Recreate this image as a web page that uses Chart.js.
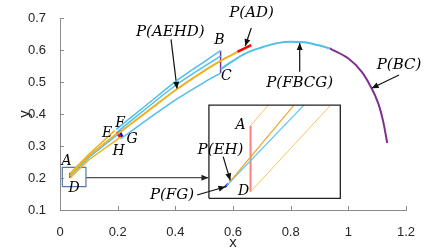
<!DOCTYPE html>
<html>
<head>
<meta charset="utf-8">
<script src="https://cdn.jsdelivr.net/npm/chart.js@4.4.0/dist/chart.umd.min.js"></script>
<style>
    html, body { margin: 0; padding: 0; background: #ffffff; }
</style>
</head>
<body>
<canvas id="grafico" width="448" height="252"></canvas>
<script>

// marcas dos eixos
const xTicks = [0, 0.2, 0.4, 0.6, 0.8, 1, 1.2];
const xTickLabels = ["0", "0.2", "0.4", "0.6", "0.8", "1", "1.2"];
const yTicks = [0.1, 0.2, 0.3, 0.4, 0.5, 0.6, 0.7];
const yTickLabels = ["0.1", "0.2", "0.3", "0.4", "0.5", "0.6", "0.7"];

// trecho A-D ate E-H
const linhaAE = [[0.035, 0.215], [0.1, 0.274], [0.19, 0.348]];
const linhaDH = [[0.035, 0.200], [0.1, 0.257], [0.21, 0.328]];
const linhaMeioLaranja = [[0.034, 0.209], [0.1, 0.269], [0.2, 0.342]];
const linhaMeioAzul = [[0.033, 0.205], [0.1, 0.264], [0.2, 0.336]];

// faixa E-H ate B-C
const azulSuperior = [[0.195, 0.352], [0.3, 0.428], [0.406, 0.505], [0.5, 0.563], [0.557, 0.598]];
const azulSegundo = [[0.2, 0.345], [0.3, 0.418], [0.406, 0.493], [0.5, 0.549], [0.557, 0.581]];
const laranjaCentro = [[0.2, 0.338], [0.3, 0.406], [0.406, 0.478], [0.5, 0.535], [0.557, 0.566], [0.59, 0.582], [0.615, 0.594]];
const azulInferior = [[0.21, 0.322], [0.3, 0.381], [0.406, 0.447], [0.5, 0.499], [0.557, 0.528]];

// segmentos
const segAD = [[0.615, 0.594], [0.663, 0.615]];
const segBC = [[0.557, 0.598], [0.557, 0.528]];
const segEH = [[0.197, 0.344], [0.209, 0.326]];
const segFG = [[0.205, 0.348], [0.216, 0.329]];
const segADpequeno = [[0.035, 0.216], [0.035, 0.200]];

// curva depois de BC e trecho final
const curvaFBCG = [[0.557, 0.540], [0.6, 0.566], [0.64, 0.588], [0.6957, 0.607], [0.7537, 0.6215], [0.80, 0.6259], [0.8463, 0.6241], [0.8929, 0.6156], [0.9357, 0.6053]];
const curvaBC = [[0.9357, 0.6053], [0.9993, 0.5741], [1.0459, 0.5322], [1.0807, 0.4803], [1.1037, 0.4334], [1.12, 0.38], [1.135, 0.3094]];

// detalhe ampliado
const caixaPequena = [[0.008, 0.173], [0.09, 0.173], [0.09, 0.233], [0.008, 0.233], [0.008, 0.173]];
const caixaDetalhe = [[0.5165, 0.1366], [0.9722, 0.1366], [0.9722, 0.428], [0.5165, 0.428], [0.5165, 0.1366]];
const detalheAD = [[0.6609, 0.3634], [0.6609, 0.1572]];
const detalheLaranjaA = [[0.6609, 0.3634], [0.7224, 0.428]];
const detalheLaranjaEH = [[0.5913, 0.1906], [0.8115, 0.428]];
const detalheAzulFG = [[0.5774, 0.1759], [0.8463, 0.428]];
const detalheLaranjaD = [[0.6609, 0.1572], [0.9391, 0.428]];
const detalheEH = [[0.5895, 0.1885], [0.5925, 0.1925]];
const detalheFG = [[0.572, 0.172], [0.583, 0.182]];

// setas
const setaCaixa = [[0.0904, 0.2009], [0.5148, 0.2009]];
const setaAEHD = [[0.3851, 0.6334], [0.4059, 0.4785]];
const setaAD = [[0.6633, 0.6688], [0.6424, 0.6125]];
const setaFBCG = [[0.8313, 0.5322], [0.8313, 0.6215]];
const setaBC = [[1.1757, 0.5219], [1.0807, 0.4803]];
const setaEH = [[0.5659, 0.2666], [0.5905, 0.1925]];
const setaFG = [[0.4755, 0.1469], [0.5739, 0.1728]];

// rotulos
const rotulos = [
    { texto: "P(AEHD)", x: 0.3826, y: 0.656, tam: 15 },
    { texto: "P(AD)", x: 0.6643, y: 0.716, tam: 15 },
    { texto: "P(FBCG)", x: 0.8313, y: 0.496, tam: 15 },
    { texto: "P(BC)", x: 1.1757, y: 0.553, tam: 15 },
    { texto: "P(EH)", x: 0.5565, y: 0.2875, tam: 15 },
    { texto: "P(FG)", x: 0.3885, y: 0.1469, tam: 15 },
    { texto: "B", x: 0.553, y: 0.631, tam: 14 },
    { texto: "C", x: 0.577, y: 0.519, tam: 14 },
    { texto: "E", x: 0.1635, y: 0.3406, tam: 14 },
    { texto: "F", x: 0.2087, y: 0.3719, tam: 14 },
    { texto: "G", x: 0.2504, y: 0.322, tam: 14 },
    { texto: "H", x: 0.2035, y: 0.284, tam: 14 },
    { texto: "A", x: 0.0226, y: 0.2516, tam: 14 },
    { texto: "D", x: 0.0487, y: 0.1688, tam: 14 },
    { texto: "A", x: 0.626, y: 0.3634, tam: 14 },
    { texto: "D", x: 0.6365, y: 0.157, tam: 14 }
];

const AZUL = "#4DBEEE";
const LARANJA = "#EDB120";
const ROXO = "#7E2F8E";

function pts(arr) {
    return arr.map(p => ({ x: p[0], y: p[1] }));
}

function linha(arr, cor, largura, extra) {
    return Object.assign({
        data: pts(arr),
        showLine: true,
        borderColor: cor,
        borderWidth: largura,
        pointRadius: 0,
        tension: 0,
        fill: false,
        clip: false
    }, extra || {});
}

const datasets = [
    linha(linhaAE, LARANJA, 1.5),
    linha(linhaDH, LARANJA, 1.5),
    linha(linhaMeioLaranja, LARANJA, 1.5),
    linha(linhaMeioAzul, AZUL, 1.5),
    linha(azulSuperior, AZUL, 1.5, { tension: 0.3 }),
    linha(azulSegundo, AZUL, 1.5, { tension: 0.3 }),
    linha(laranjaCentro, LARANJA, 2, { tension: 0.3 }),
    linha(azulInferior, AZUL, 1.5, { tension: 0.3 }),
    linha(curvaFBCG, AZUL, 2, { cubicInterpolationMode: "monotone" }),
    linha(curvaBC, ROXO, 2, { tension: 0.35 }),
    linha(segAD, "#FF0000", 2.5),
    linha(segBC, ROXO, 1.5),
    linha(segEH, "#E00000", 2.5),
    linha(segFG, "#0000FF", 2.5),
    linha(segADpequeno, "#FF0000", 2),
    linha(caixaPequena, "#5577AA", 1.2),
    linha(caixaDetalhe, "#222222", 1.3),
    linha(detalheLaranjaA, "#F5C55A", 1),
    linha(detalheLaranjaEH, "#F0A830", 1.2),
    linha(detalheAzulFG, "#6CC8F0", 1.2),
    linha(detalheLaranjaD, "#F5C55A", 1),
    linha(detalheAD, "#FF7F7F", 2),
    linha(detalheEH, "#FF0000", 2),
    linha(detalheFG, "#0000FF", 2),
    linha(setaCaixa, "#222222", 1, { seta: true }),
    linha(setaAEHD, "#111111", 1.2, { seta: true }),
    linha(setaAD, "#111111", 1.2, { seta: true }),
    linha(setaFBCG, "#111111", 1.2, { seta: true }),
    linha(setaBC, "#111111", 1.2, { seta: true }),
    linha(setaEH, "#111111", 1.2, { seta: true }),
    linha(setaFG, "#111111", 1.2, { seta: true })
];

const pluginSetas = {
    id: "setas",
    afterDatasetsDraw(chart) {
        const ctx = chart.ctx;
        chart.data.datasets.forEach((ds, i) => {
            if (!ds.seta) return;
            const el = chart.getDatasetMeta(i).data;
            const a = el[el.length - 2], b = el[el.length - 1];
            const ang = Math.atan2(b.y - a.y, b.x - a.x);
            ctx.save();
            ctx.translate(b.x, b.y);
            ctx.rotate(ang);
            ctx.beginPath();
            ctx.moveTo(0, 0);
            ctx.lineTo(-7, -3);
            ctx.lineTo(-7, 3);
            ctx.closePath();
            ctx.fillStyle = ds.borderColor;
            ctx.fill();
            ctx.restore();
        });
    }
};

const pluginTextos = {
    id: "textos",
    afterDatasetsDraw(chart) {
        const ctx = chart.ctx;
        const sx = chart.scales.x, sy = chart.scales.y;
        ctx.save();
        ctx.fillStyle = "#000000";
        ctx.textAlign = "center";
        ctx.textBaseline = "middle";
        rotulos.forEach(r => {
            ctx.font = "italic " + r.tam + "px 'DejaVu Serif'";
            ctx.fillText(r.texto, sx.getPixelForValue(r.x), sy.getPixelForValue(r.y));
        });
        ctx.restore();
    }
};

// marcas dos eixos para dentro, como no matlab
const pluginMarcas = {
    id: "marcas",
    afterDraw(chart) {
        const ctx = chart.ctx;
        const sx = chart.scales.x, sy = chart.scales.y;
        const area = chart.chartArea;
        ctx.save();
        ctx.strokeStyle = "#8c8c8c";
        ctx.lineWidth = 1;
        ctx.beginPath();
        xTicks.forEach(v => {
            const px = Math.round(sx.getPixelForValue(v)) + 0.5;
            ctx.moveTo(px, area.bottom);
            ctx.lineTo(px, area.bottom - 4);
        });
        yTicks.forEach(v => {
            const py = Math.round(sy.getPixelForValue(v)) + 0.5;
            ctx.moveTo(area.left, py);
            ctx.lineTo(area.left + 4, py);
        });
        ctx.stroke();
        ctx.restore();
    }
};

new Chart(document.getElementById("grafico"), {
    type: "scatter",
    data: { datasets: datasets },
    options: {
        responsive: false,
        animation: false,
        events: [],
        layout: { padding: { top: 18, right: 42, left: 0, bottom: 0 } },
        plugins: {
            legend: { display: false },
            tooltip: { enabled: false }
        },
        scales: {
            x: {
                type: "linear",
                min: 0,
                max: 1.2,
                afterFit: (scale) => { scale.height = 42; },
                afterBuildTicks: (scale) => { scale.ticks = xTicks.map(v => ({ value: v })); },
                ticks: {
                    padding: 7,
                    color: "#262626",
                    font: { family: "'Liberation Sans'", size: 13 },
                    maxRotation: 0,
                    callback: (v) => xTickLabels[xTicks.indexOf(v)]
                },
                grid: { display: false },
                border: { display: true, color: "#8c8c8c", width: 1 },
                title: {
                    display: true,
                    text: "x",
                    color: "#262626",
                    font: { family: "'Liberation Sans'", size: 15 },
                    padding: { top: 0, bottom: 0 }
                }
            },
            y: {
                type: "linear",
                min: 0.1,
                max: 0.7,
                afterFit: (scale) => { scale.width = 60; },
                afterBuildTicks: (scale) => { scale.ticks = yTicks.map(v => ({ value: v })); },
                ticks: {
                    padding: 6,
                    color: "#262626",
                    font: { family: "'Liberation Sans'", size: 13 },
                    callback: (v) => yTickLabels[yTicks.indexOf(v)]
                },
                grid: { display: false },
                border: { display: true, color: "#8c8c8c", width: 1 },
                title: {
                    display: true,
                    text: "y",
                    color: "#262626",
                    font: { family: "'Liberation Sans'", size: 15 },
                    padding: { top: 16, bottom: 0 }
                }
            }
        }
    },
    plugins: [pluginSetas, pluginTextos, pluginMarcas]
});

</script>
</body>
</html>
